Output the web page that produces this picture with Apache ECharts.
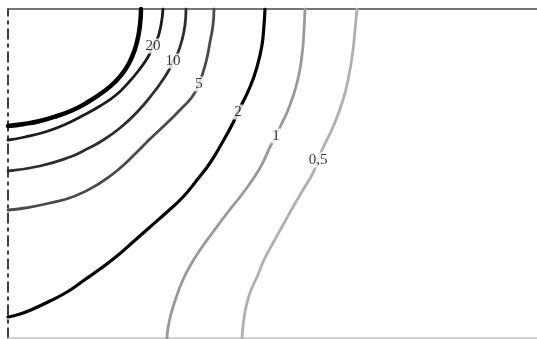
<!DOCTYPE html>
<html>
<head>
<meta charset="utf-8">
<style>
  html, body { margin: 0; padding: 0; background: #fff; }
  #chart { width: 537px; height: 339px; }
</style>
<script src="https://cdn.jsdelivr.net/npm/echarts@6/dist/echarts.min.js"></script>
</head>
<body>
<div id="chart"></div>
<script>
// Contour levels and the traced isolines, as [x, y] pairs in plot units
// (x: distance from the left edge, y: height above the bottom edge).
const levelLabels = ['', '20', '10', '5', '2', '1', '0,5'];

const curveA = [[133,329],[132,313],[129,296],[124,281],[117,268],[107,256],[95,246],[80,236],[65,228],[49,222],[32,217],[16,214],[0,212]];
const curveB = [[155,329],[153,313],[149,298],[145,292],[140,281],[131,268],[121,256],[108,243],[92,232],[74,222],[56,213],[37,206],[17,201],[0,198]];
const curveC = [[178,329],[177,313],[174,298],[169,283],[165,277],[161,268],[154,257],[146,246],[131,228],[112,210],[92,196],[77,188],[62,181],[32,172],[0,167]];
const curveD = [[206,329],[205,313],[202,296],[198,276],[191,254],[184,241],[172,228],[159,215],[143,200],[128,185],[111,169],[92,155],[67,142],[42,135],[17,130],[0,128]];
const curveE = [[257,329],[256,313],[254,293],[249,271],[242,251],[230,226],[225,215],[214,195],[202,175],[189,158],[175,141],[159,126],[142,111],[125,96],[109,82],[92,69],[75,57],[59,46],[42,37],[25,29],[12,24],[0,21]];
const curveF = [[297,329],[296,308],[294,283],[289,255],[280,228],[273,213],[268,202],[262,191],[252,170],[235,145],[220,126],[205,106],[192,88],[182,72],[174,56],[168,40],[163,24],[160,10],[159,0]];
const curveG = [[349,329],[347,308],[345,288],[341,263],[335,238],[325,211],[314,188],[310,178],[305,165],[295,148],[285,131],[275,113],[265,95],[256,78],[249,61],[243,48],[239,35],[236,20],[234,0]];

const curves = [curveA, curveB, curveC, curveD, curveE, curveF, curveG];
// index of the point on each isoline that carries its level label (-1: none)
const labelAt = [-1, 3, 4, 4, 5, 6, 7];

// stroke style per isoline
const strokes = [
  { color: '#000000', width: 4.5 },
  { color: '#1c1c1c', width: 2.8 },
  { color: '#2e2e2e', width: 2.8 },
  { color: '#4a4a4a', width: 2.8 },
  { color: '#050505', width: 3.2 },
  { color: '#999999', width: 2.8 },
  { color: '#b0b0b0', width: 2.8 }
];

const series = curves.map((pts, i) => ({
  type: 'line',
  data: pts,
  smooth: 0.5,
  showSymbol: false,
  silent: true,
  z: 2,
  lineStyle: { color: strokes[i].color, width: strokes[i].width, cap: 'round', join: 'round' }
}));

const labelPoints = [];
curves.forEach((pts, i) => {
  if (labelAt[i] >= 0) {
    labelPoints.push({ value: pts[labelAt[i]], name: levelLabels[i] });
  }
});

series.push({
  type: 'scatter',
  data: labelPoints,
  symbolSize: 1,
  itemStyle: { color: 'rgba(0,0,0,0)' },
  silent: true,
  z: 5,
  label: {
    show: true,
    position: 'inside',
    formatter: p => p.name,
    fontFamily: '"Liberation Serif", "DejaVu Serif", serif',
    fontSize: 15,
    color: '#000',
    backgroundColor: '#fff',
    padding: [0, 1, 0, 1]
  }
});

const chart = echarts.init(document.getElementById('chart'), null, { renderer: 'canvas' });
chart.setOption({
  animation: false,
  backgroundColor: '#fff',
  grid: { left: 8, right: 0, top: 9, bottom: 1 },
  xAxis: [
    {
      type: 'value', min: 0, max: 529, position: 'bottom',
      axisLine: { show: true, lineStyle: { color: '#c4c4c4', width: 1.5 } },
      axisTick: { show: false }, axisLabel: { show: false }, splitLine: { show: false }
    },
    {
      type: 'value', min: 0, max: 529, position: 'top',
      axisLine: { show: true, lineStyle: { color: '#4a4a4a', width: 1.5 } },
      axisTick: { show: false }, axisLabel: { show: false }, splitLine: { show: false }
    }
  ],
  yAxis: {
    type: 'value', min: 0, max: 329,
    axisLine: { show: true, lineStyle: { color: '#000', width: 1.5, type: [10, 5, 3, 5] } },
    axisTick: { show: false }, axisLabel: { show: false }, splitLine: { show: false }
  },
  series: series
});
</script>
</body>
</html>
